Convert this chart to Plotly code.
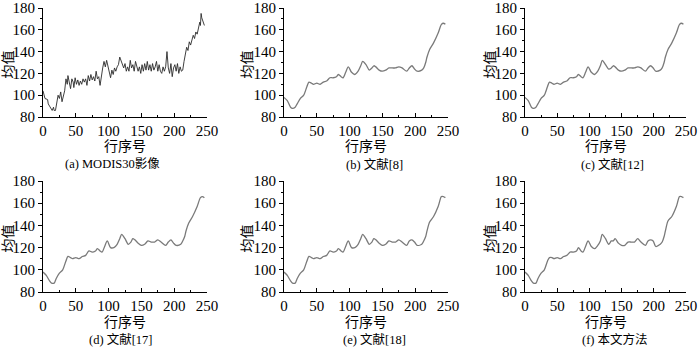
import plotly.graph_objects as go

# ---- data ----
x_raw = [0, 1, 3, 7, 8, 10, 12, 14, 16, 17, 19, 21, 23, 25, 27, 29, 31, 33, 35, 37, 38, 40, 42, 44, 46, 47,
         49, 51, 53, 55, 57, 59, 61, 63, 65, 67, 69, 71, 73, 75, 77, 79, 81, 83, 85, 87, 89, 91, 93, 95,
         97, 99, 101, 103, 105, 107, 109, 111, 113, 115, 117, 119, 121, 123, 125, 127, 129, 131, 133, 135,
         137, 139, 141, 143, 145, 147, 149, 151, 153, 155, 157, 159, 161, 163, 165, 167, 169, 171, 173, 175,
         177, 179, 181, 183, 185, 187, 189, 191, 193, 195, 197, 199, 201, 203, 205, 207, 209, 211, 213, 215,
         217, 219, 221, 223, 225, 227, 229, 231, 233, 235, 237, 239, 240, 241, 242, 244, 246]
y_raw = [104, 101, 97, 96, 92, 90, 88, 86, 89, 86, 86, 95, 100, 97, 103, 94, 100, 104, 115, 110, 118, 111,
         106, 115, 112, 107, 116, 110, 114, 109, 113, 110, 115, 112, 115, 109, 118, 113, 119, 114, 117, 113,
         122, 115, 117, 109, 120, 125, 131, 126, 132, 126, 122, 116, 123, 119, 125, 122, 126, 128, 135, 132,
         128, 125, 129, 122, 126, 122, 132, 125, 128, 122, 131, 125, 122, 126, 120, 128, 122, 129, 123, 131,
         123, 128, 122, 129, 123, 126, 131, 122, 128, 122, 120, 126, 122, 126, 140, 125, 120, 129, 117, 125,
         128, 122, 129, 120, 126, 122, 123, 131, 140, 144, 141, 149, 146, 150, 155, 152, 158, 156, 161, 167,
         164, 175, 171, 167, 164]

x_s = [0, 5, 10, 13, 17, 20, 25, 30, 35, 38, 42, 45, 50, 55, 60, 65, 70, 75, 80, 83, 87, 90, 94, 98, 103,
       108, 113, 117, 120, 125, 130, 134, 137, 140, 145, 150, 155, 160, 165, 170, 175, 180, 187, 191, 195,
       199, 203, 210, 213, 216, 218, 222, 228, 235, 240, 243, 246]
y_b = [98, 95, 89, 88, 89, 92, 97, 100, 108, 112, 111, 110, 111, 110, 112, 113, 116, 116, 117, 119, 117,
       116, 121, 126, 121, 119, 122, 127, 131, 128, 123, 125, 127, 126, 123, 122, 123, 125, 125, 125, 126,
       125, 122, 125, 127, 124, 122, 123, 125, 130, 135, 142, 148, 157, 165, 166, 165]
y_c = [98, 95, 89, 88, 89, 92, 97, 100, 108, 112, 111, 110, 111, 110, 112, 113, 116, 116, 117, 119, 117,
       116, 121, 126, 121, 119, 122, 127, 132, 128, 124, 125, 127, 126, 123, 122, 123, 125, 125, 125, 126,
       125, 122, 125, 127, 125, 122, 123, 125, 130, 135, 142, 148, 157, 165, 166, 165]
y_d = [98, 95, 90, 88, 88, 92, 97, 100, 108, 112, 111, 110, 111, 110, 112, 113, 117, 116, 117, 119, 117,
       116, 121, 126, 120, 120, 123, 128, 132, 128, 123, 125, 128, 127, 124, 122, 123, 126, 125, 125, 127,
       125, 122, 125, 127, 124, 122, 123, 126, 130, 135, 142, 148, 157, 165, 166, 165]
y_e = [98, 95, 90, 88, 88, 92, 97, 100, 108, 112, 111, 110, 111, 110, 112, 113, 117, 116, 117, 119, 117,
       116, 121, 126, 120, 120, 123, 128, 132, 128, 123, 125, 128, 127, 124, 122, 123, 126, 125, 125, 127,
       125, 122, 126, 127, 125, 122, 123, 126, 130, 135, 143, 148, 157, 166, 166, 165]
y_f = [98, 95, 90, 88, 88, 92, 97, 100, 108, 111, 111, 110, 111, 110, 112, 113, 116, 116, 117, 120, 117,
       116, 121, 126, 121, 119, 122, 126, 132, 128, 123, 126, 126, 128, 124, 122, 122, 125, 125, 125, 128,
       125, 122, 126, 127, 126, 121, 123, 125, 130, 135, 144, 148, 157, 166, 166, 165]

captions = ["(a) MODIS30影像", "(b) 文献[8]", "(c) 文献[12]", "(d) 文献[17]", "(e) 文献[18]", "(f) 本文方法"]
x_title = "行序号"
y_title = "均值"

# ---- layout geometry (pixels) ----
W, H = 700, 350
col_px = [(43, 207), (284, 448), (525, 686)]
row_px = [(8, 117), (181, 292)]
ytitle_x = [8, 247, 490]
cap_x = [[112, 374, 612], [121, 374, 615]]

FONT = "Liberation Serif, Times New Roman, Noto Sans CJK SC, serif"

fig = go.Figure()
series = [(x_raw, y_raw), (x_s, y_b), (x_s, y_c), (x_s, y_d), (x_s, y_e), (x_s, y_f)]
annotations = []
layout = {}
for i, (xs, ys) in enumerate(series):
    r, c = divmod(i, 3)
    n = "" if i == 0 else str(i + 1)
    if i == 0:
        line = dict(color="#2a2a2a", width=0.9)
    else:
        line = dict(color="#7a7a7a", width=1.3, shape="spline", smoothing=0.8)
    fig.add_trace(go.Scatter(x=xs, y=ys, mode="lines", line=line,
                             xaxis="x" + n, yaxis="y" + n, showlegend=False, hoverinfo="skip"))
    x0, x1 = col_px[c]
    t, b = row_px[r]
    layout["xaxis" + n] = dict(
        domain=[x0 / W, x1 / W], anchor="y" + n, range=[0, 250], dtick=50, tick0=0,
        automargin=False, ticklabeloverflow="allow",
        showgrid=False, zeroline=False, showline=True, linecolor="black", linewidth=1,
        ticks="inside", ticklen=4, tickwidth=1, tickcolor="black",
        minor=dict(dtick=25, ticks="inside", ticklen=2, tickcolor="black", showgrid=False),
        tickfont=dict(family=FONT, size=15, color="black"))
    layout["yaxis" + n] = dict(
        domain=[1 - b / H, 1 - t / H], anchor="x" + n, range=[80, 180], dtick=20, tick0=80,
        automargin=False, ticklabeloverflow="allow",
        showgrid=False, zeroline=False, showline=True, linecolor="black", linewidth=1,
        ticks="outside", ticklen=4, tickwidth=1, tickcolor="black",
        minor=dict(dtick=10, ticks="outside", ticklen=2, tickcolor="black", showgrid=False),
        tickfont=dict(family=FONT, size=15, color="black"))
    # y title
    annotations.append(dict(text=y_title, x=ytitle_x[c] / W, y=1 - ((t + b) / 2 + 2) / H,
                            xref="paper", yref="paper", showarrow=False, textangle=-90,
                            font=dict(family=FONT, size=14, color="black"),
                            xanchor="center", yanchor="middle"))
    # x title
    annotations.append(dict(text=x_title, x=(x0 + x1) / 2 / W, y=1 - (b + 30) / H,
                            xref="paper", yref="paper", showarrow=False,
                            font=dict(family=FONT, size=14, color="black"),
                            xanchor="center", yanchor="middle"))
    # caption
    annotations.append(dict(text=captions[i], x=cap_x[r][c] / W, y=1 - (b + 47) / H,
                            xref="paper", yref="paper", showarrow=False,
                            font=dict(family=FONT, size=12.5, color="black"),
                            xanchor="center", yanchor="middle"))

fig.update_layout(width=W, height=H, margin=dict(l=0, r=0, t=0, b=0),
                  paper_bgcolor="white", plot_bgcolor="white",
                  annotations=annotations, **layout)
fig.write_html("out.html", config={"displayModeBar": False},
               post_script="document.body.style.margin='0';")
